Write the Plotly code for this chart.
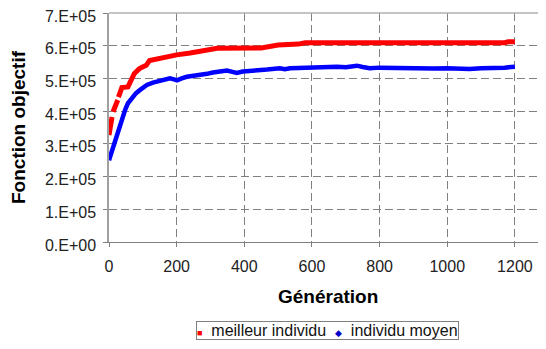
import plotly.graph_objects as go

# meilleur individu (None = trou entre marqueurs)
gen_best = [0, 9, None, 12, 26, None, 28, 38, 56, 65, 75, 90, 110, 120, 140, 160, 200,
            240, 280, 300, 320, 450, 470, 500, 560, 580, 1170, 1180, 1200]
val_best = [3.27e5, 3.82e5, None, 3.98e5, 4.34e5, None, 4.43e5, 4.72e5, 4.74e5, 4.90e5,
            5.15e5, 5.30e5, 5.40e5, 5.55e5, 5.60e5, 5.65e5, 5.72e5, 5.78e5, 5.85e5,
            5.90e5, 5.92e5, 5.93e5, 5.98e5, 6.02e5, 6.05e5, 6.09e5, 6.09e5, 6.12e5, 6.12e5]

# individu moyen
gen_mean = [0, 6, 12, 20, 27, 34, 41, 48, 56, 64, 71, 80, 92, 102, 112, 130, 145, 160,
            180, 192, 201, 215, 230, 250, 269, 290, 307, 330, 349, 365, 378, 395, 417,
            440, 467, 490, 505, 520, 535, 560, 594, 620, 650, 674, 700, 733, 750, 771,
            800, 830, 869, 900, 928, 960, 999, 1030, 1066, 1100, 1146, 1170, 1200]
val_mean = [2.50e5, 2.70e5, 2.90e5, 3.10e5, 3.33e5, 3.60e5, 3.82e5, 4.05e5, 4.24e5,
            4.36e5, 4.44e5, 4.55e5, 4.65e5, 4.73e5, 4.80e5, 4.87e5, 4.91e5, 4.95e5,
            5.00e5, 4.97e5, 4.94e5, 5.00e5, 5.05e5, 5.08e5, 5.10e5, 5.14e5, 5.18e5,
            5.21e5, 5.24e5, 5.20e5, 5.17e5, 5.21e5, 5.24e5, 5.25e5, 5.27e5, 5.29e5,
            5.31e5, 5.28e5, 5.31e5, 5.32e5, 5.34e5, 5.33e5, 5.35e5, 5.36e5, 5.34e5,
            5.39e5, 5.35e5, 5.31e5, 5.33e5, 5.32e5, 5.31e5, 5.30e5, 5.28e5, 5.30e5,
            5.31e5, 5.29e5, 5.29e5, 5.31e5, 5.31e5, 5.33e5, 5.36e5]

y_ticks = [0, 1e5, 2e5, 3e5, 4e5, 5e5, 6e5, 7e5]
y_labels = ["0.E+00", "1.E+05", "2.E+05", "3.E+05", "4.E+05", "5.E+05", "6.E+05", "7.E+05"]
x_ticks = [0, 200, 400, 600, 800, 1000, 1200]

font = "Liberation Sans, Arial, sans-serif"

fig = go.Figure()
fig.add_trace(go.Scatter(x=gen_best, y=val_best, mode="lines", connectgaps=False,
                         name="meilleur individu",
                         line=dict(color="#ff0000", width=5), showlegend=False))
fig.add_trace(go.Scatter(x=gen_mean, y=val_mean, mode="lines", name="individu moyen",
                         line=dict(color="#0000ff", width=4.5), showlegend=False))

# légende encadrée sous le graphique
legend_text = ('<span style="color:#ff0000;font-size:9px">■</span>  meilleur individu  '
               '<span style="color:#0000cc;font-size:9px">◆</span>  individu moyen')

# la page ajoute 8 px de marge autour de la figure
fig.update_layout(
    width=538, height=341,
    margin=dict(l=101, r=0, t=5, b=107),
    paper_bgcolor="white", plot_bgcolor="white",
    font=dict(family=font, size=16, color="#222"),
    showlegend=False,
    annotations=[
        dict(text="<b>Génération</b>", xref="paper", yref="paper", x=0.5, y=-0.24,
             xanchor="center", yanchor="middle", showarrow=False,
             font=dict(size=19, color="#000")),
        dict(text=legend_text, xref="paper", yref="paper", x=0.5, y=-0.345,
             xanchor="center", yanchor="top", showarrow=False,
             font=dict(size=16, color="#111"), bordercolor="#808080",
             borderwidth=1, borderpad=0, bgcolor="white"),
    ],
    shapes=[dict(type="line", xref="paper", yref="paper", x0=0, x1=1, y0=1, y1=1,
                 line=dict(color="#b0b0b0", width=1.5))],
)
fig.update_xaxes(
    range=[0, 1292], tickvals=x_ticks, showgrid=True, gridcolor="#808080",
    griddash="8px,4px", gridwidth=1, showline=True, linecolor="#808080", linewidth=1,
    ticks="outside", ticklen=4, tickcolor="#808080", zeroline=False, automargin=False,
    ticklabelstandoff=6,
)
fig.update_yaxes(
    range=[0, 7e5], tickvals=y_ticks, ticktext=y_labels, showgrid=True,
    gridcolor="#808080", griddash="8px,4px", gridwidth=1, showline=True,
    linecolor="#a0a0a0", linewidth=1.5, ticks="outside", ticklen=4, tickcolor="#808080",
    zeroline=False, automargin=False, ticklabeloverflow="allow",
    ticklabelstandoff=4, ticklabelshift=3,
    title=dict(text="<b>Fonction objectif</b>", font=dict(size=19, color="#000")),
)

fig.write_html("out.html")
